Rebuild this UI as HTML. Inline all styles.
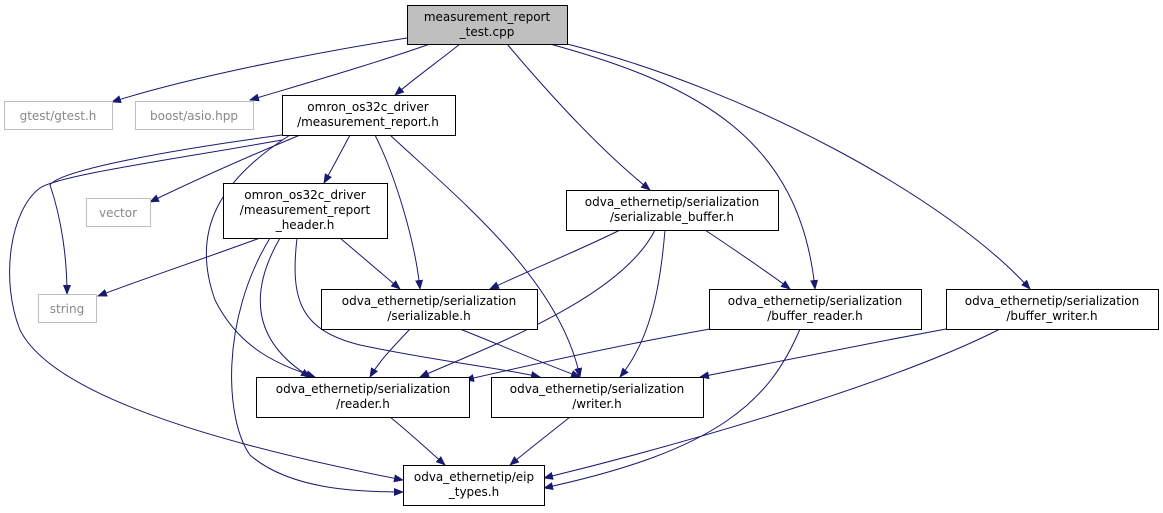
<!DOCTYPE html>
<html><head><meta charset="utf-8"><style>
html,body{margin:0;padding:0;background:#fff;width:1163px;height:513px;overflow:hidden}
text{font-family:"DejaVu Sans","Liberation Sans",sans-serif;font-size:12px;fill:#000}
</style></head><body>
<svg width="1163" height="513" viewBox="0 0 1163 513" xmlns="http://www.w3.org/2000/svg">
<defs><marker id="a" markerWidth="10" markerHeight="8" refX="9" refY="4" orient="auto" markerUnits="userSpaceOnUse"><path d="M0,0 L10,4 L0,8 z" fill="#191970"/></marker></defs>
<g fill="none" stroke="#191970" stroke-width="1" marker-end="url(#a)">
<path d="M407,38 C300,55 180,80 112,102"/>
<path d="M430,44 C370,65 300,85 250,100"/>
<path d="M460,44 C440,60 415,78 395,95"/>
<path d="M507,44 C550,95 600,150 650,190"/>
<path d="M550,44 C700,85 800,140 815,289"/>
<path d="M567,44 C750,90 950,200 1030,289"/>
<path d="M300,135 C240,160 185,185 150,202"/>
<path d="M350,135 C342,150 333,167 324,183"/>
<path d="M282,135 C170,150 60,170 50,185 C62,220 67,260 67,294"/>
<path d="M282,140 C170,160 60,175 40,188 C10,210 0,280 20,330 C60,410 300,460 403,480"/>
<path d="M290,135 C220,180 190,230 215,300 C240,350 280,365 315,377"/>
<path d="M375,135 C395,175 415,240 420,289"/>
<path d="M390,135 C460,200 560,280 580,377"/>
<path d="M260,238 C200,260 140,280 98,296"/>
<path d="M340,238 C360,255 380,272 400,289"/>
<path d="M280,238 C250,290 250,340 310,377"/>
<path d="M270,238 C220,320 225,420 250,455 C290,490 360,492 403,492"/>
<path d="M297,238 C290,300 300,330 360,345 C430,360 500,368 540,377"/>
<path d="M620,230 C580,250 530,270 490,289"/>
<path d="M655,230 C620,300 480,350 420,377"/>
<path d="M665,230 C660,290 650,340 620,377"/>
<path d="M705,230 C735,250 765,270 790,289"/>
<path d="M410,329 C395,345 380,360 370,377"/>
<path d="M460,329 C500,345 540,362 580,377"/>
<path d="M710,329 C620,345 530,365 465,380"/>
<path d="M800,329 C770,400 720,450 544,488"/>
<path d="M946,329 C860,345 760,365 700,377"/>
<path d="M1000,329 C900,380 700,440 544,478"/>
<path d="M390,417 C410,433 428,450 445,465"/>
<path d="M570,417 C550,433 528,450 510,465"/>
</g>
<g stroke-width="1">
<rect x="407.5" y="5.5" width="160" height="39" fill="#bfbfbf" stroke="#000"/>
<rect x="4.5" y="101.5" width="108" height="28" fill="#fff" stroke="#bfbfbf"/>
<rect x="135.5" y="101.5" width="118" height="28" fill="#fff" stroke="#bfbfbf"/>
<rect x="282.5" y="95.5" width="173" height="40" fill="#fff" stroke="#000"/>
<rect x="86.5" y="198.5" width="64" height="28" fill="#fff" stroke="#bfbfbf"/>
<rect x="223.5" y="183.5" width="164" height="55" fill="#fff" stroke="#000"/>
<rect x="566.5" y="190.5" width="212" height="40" fill="#fff" stroke="#000"/>
<rect x="38.5" y="294.5" width="58" height="28" fill="#fff" stroke="#bfbfbf"/>
<rect x="321.5" y="289.5" width="216" height="40" fill="#fff" stroke="#000"/>
<rect x="709.5" y="289.5" width="212" height="40" fill="#fff" stroke="#000"/>
<rect x="946.5" y="289.5" width="212" height="40" fill="#fff" stroke="#000"/>
<rect x="256.5" y="377.5" width="213" height="40" fill="#fff" stroke="#000"/>
<rect x="491.5" y="377.5" width="212" height="40" fill="#fff" stroke="#000"/>
<rect x="403.5" y="465.5" width="141" height="40" fill="#fff" stroke="#000"/>
</g>
<g text-anchor="middle">
<text x="487" y="21">measurement_report</text><text x="487" y="36">_test.cpp</text>
<text x="58" y="120" style="fill:#888">gtest/gtest.h</text>
<text x="194" y="120" style="fill:#888">boost/asio.hpp</text>
<text x="368" y="111">omron_os32c_driver</text><text x="368" y="126">/measurement_report.h</text>
<text x="118" y="217" style="fill:#888">vector</text>
<text x="305" y="199">omron_os32c_driver</text><text x="305" y="214">/measurement_report</text><text x="305" y="229">_header.h</text>
<text x="672" y="206">odva_ethernetip/serialization</text><text x="672" y="221">/serializable_buffer.h</text>
<text x="67" y="313" style="fill:#888">string</text>
<text x="429" y="305">odva_ethernetip/serialization</text><text x="429" y="320">/serializable.h</text>
<text x="815" y="305">odva_ethernetip/serialization</text><text x="815" y="320">/buffer_reader.h</text>
<text x="1052" y="305">odva_ethernetip/serialization</text><text x="1052" y="320">/buffer_writer.h</text>
<text x="363" y="393">odva_ethernetip/serialization</text><text x="363" y="408">/reader.h</text>
<text x="597" y="393">odva_ethernetip/serialization</text><text x="597" y="408">/writer.h</text>
<text x="474" y="481">odva_ethernetip/eip</text><text x="474" y="496">_types.h</text>
</g>
</svg>
</body></html>
